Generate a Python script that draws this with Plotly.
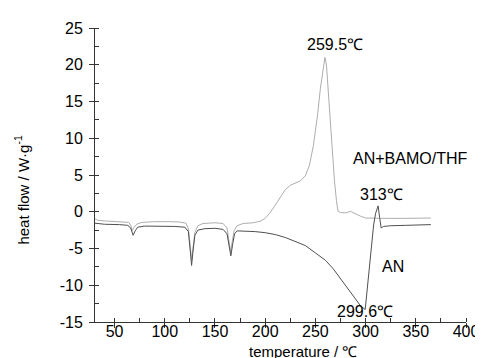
import plotly.graph_objects as go

# AN+BAMO/THF curve (light grey)
temp_ab = [30, 33, 40, 50, 60, 64, 66, 67.5, 69, 72, 77, 90, 105, 115, 121, 123.5, 125.5, 126.8, 128, 130,
           133, 138, 150, 158, 162, 164, 165.5, 167, 169, 172, 178, 188, 195, 200, 205, 210, 215, 220, 225,
           230, 235, 240, 244, 248, 252, 255, 257.5, 259.5, 261, 263, 265, 267, 269, 271, 272.5, 275, 280,
           285, 290, 295, 300, 310, 320, 340, 365]
hf_ab = [-0.9, -1.15, -1.25, -1.3, -1.35, -1.45, -1.8, -2.6, -2.2, -1.7, -1.45, -1.35, -1.35, -1.4, -1.55,
         -2.3, -4.8, -6.6, -5.0, -2.8, -1.9, -1.6, -1.5, -1.6, -2.2, -3.8, -5.4, -4.2, -2.6, -1.9, -1.6,
         -1.5, -1.3, -0.9, -0.1, 0.9, 2.0, 3.0, 3.6, 3.9, 4.2, 4.9, 6.3, 9.0, 13.0, 16.8, 19.6, 21.0, 20.0,
         16.0, 11.5, 7.8, 4.2, 1.5, 0.1, -0.1, -0.15, 0.05, -0.3, -0.6, -0.85, -0.9, -0.9, -0.9, -0.85]

# AN curve (dark grey)
temp_an = [30, 40, 55, 63, 66, 68.5, 70.5, 73, 80, 95, 110, 120, 123.5, 125.5, 126.7, 128, 130, 133, 140,
           150, 158, 162, 164, 165.8, 167.5, 169.5, 172, 180, 190, 200, 210, 220, 230, 240, 250, 260, 268,
           275, 280, 285, 290, 295, 299.6, 302, 304, 306, 308, 310, 312.5, 314, 315.5, 318, 325, 340, 365]
hf_an = [-1.55, -1.7, -1.75, -1.85, -2.2, -3.2, -2.6, -2.1, -1.95, -1.95, -2.0, -2.1, -2.7, -5.5, -7.3,
         -5.5, -3.2, -2.5, -2.3, -2.25, -2.4, -3.0, -4.5, -6.0, -4.5, -3.0, -2.6, -2.6, -2.7, -2.85, -3.1,
         -3.5, -4.0, -4.6, -5.6, -6.6, -7.8, -9.1, -10.0, -11.0, -12.0, -12.8, -13.3, -10.0, -7.0, -4.2,
         -1.8, -0.2, 0.8, -0.8, -2.2, -2.0, -1.9, -1.85, -1.75]

x_ticks = [50, 100, 150, 200, 250, 300, 350, 400]
y_ticks = [-15, -10, -5, 0, 5, 10, 15, 20, 25]
y_ticktext = ["-15", "-10", "-5", "0", "5", "10", "15", "20", "25"]

labels = [
    ("259.5℃", 269.5, 22.7),
    ("AN+BAMO/THF", 344.6, 7.2),
    ("313℃", 315.4, 2.3),
    ("AN", 327, -7.4),
    ("299.6℃", 299.9, -13.6),
]

FONT = "Liberation Sans, Arial, sans-serif"

fig = go.Figure()
fig.add_trace(go.Scatter(x=temp_ab, y=hf_ab, mode="lines",
                         line=dict(color="#adadad", width=1), name="AN+BAMO/THF"))
fig.add_trace(go.Scatter(x=temp_an, y=hf_an, mode="lines",
                         line=dict(color="#505050", width=1), name="AN"))

for txt, x, y in labels:
    fig.add_annotation(x=x, y=y, text=txt, showarrow=False, xanchor="center", yanchor="middle",
                       font=dict(family=FONT, size=16, color="black"))

fig.add_annotation(xref="paper", yref="paper", x=-0.197, y=0.45, text="heat flow / W·g<sup>-1</sup>",
                   textangle=-90, showarrow=False, xanchor="center", yanchor="middle",
                   font=dict(family=FONT, size=15, color="black"))
fig.add_annotation(xref="paper", yref="paper", x=0.56, y=-0.102, text="temperature / ℃",
                   showarrow=False, xanchor="center", yanchor="middle",
                   font=dict(family=FONT, size=15, color="black"))

fig.update_layout(
    width=483, height=358,
    margin=dict(l=87, r=16, t=20, b=44),
    paper_bgcolor="white", plot_bgcolor="white",
    showlegend=False,
    font=dict(family=FONT, size=16, color="black"),
)
fig.update_xaxes(range=[30.5, 400], tickvals=x_ticks, showgrid=False, zeroline=False,
                 showline=True, linecolor="#333333", linewidth=1,
                 ticks="outside", ticklen=5, tickcolor="#333333",
                 tickfont=dict(family=FONT, size=16, color="black"), ticklabelstandoff=-10,
                 minor=dict(dtick=25, tick0=25, ticks="inside", ticklen=4, tickcolor="#333333"))
fig.update_yaxes(range=[-15, 25], tickvals=y_ticks, ticktext=y_ticktext, showgrid=False, zeroline=False,
                 showline=True, linecolor="#333333", linewidth=1,
                 ticks="outside", ticklen=5, tickcolor="#333333",
                 tickfont=dict(family=FONT, size=16, color="black"), ticklabelstandoff=3,
                 minor=dict(dtick=2.5, tick0=0, ticks="inside", ticklen=4, tickcolor="#333333"))

fig.write_html("out.html")
